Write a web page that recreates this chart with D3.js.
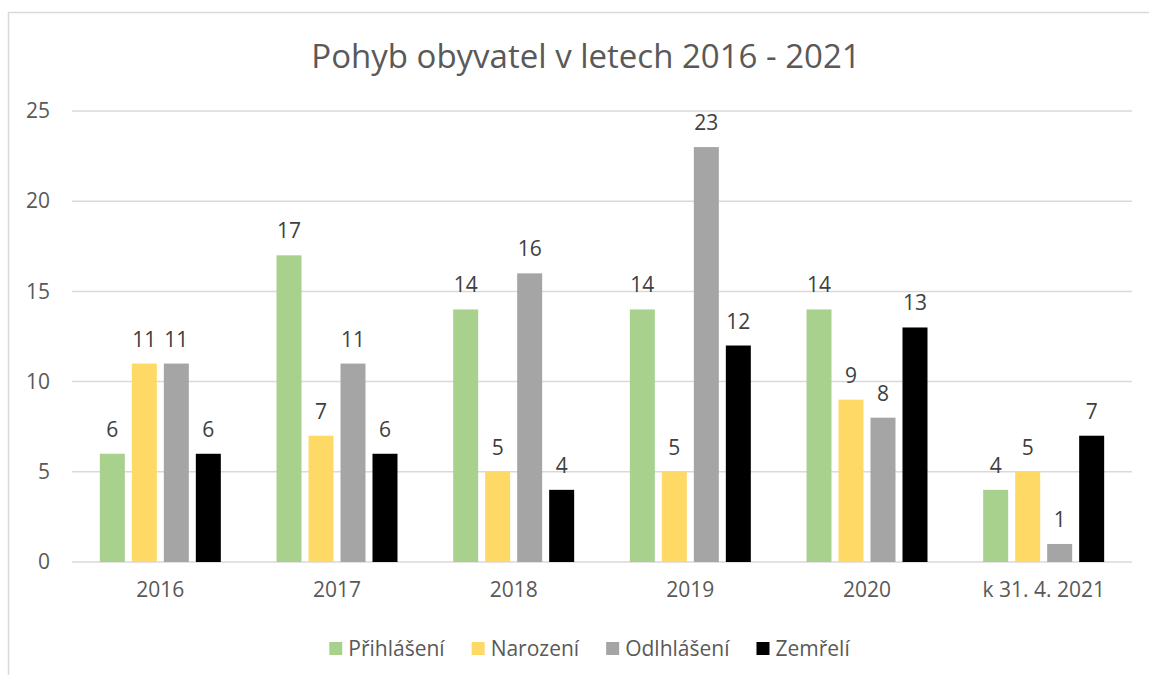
<!DOCTYPE html>
<html><head><meta charset="utf-8">
<script src="https://cdn.jsdelivr.net/npm/d3@7"></script>
<style>
html,body{margin:0;padding:0;background:#fff;}
svg{display:block;font-family:"Open Sans",sans-serif;}
</style></head>
<body><svg id="c" width="1149" height="675"></svg>
<script>
const title = "Pohyb obyvatel v letech 2016 - 2021";
const categories = ["2016","2017","2018","2019","2020","k 31. 4. 2021"];
const seriesNames = ["Přihlášení","Narození","Odlhlášení","Zemřelí"];
const prihlaseni = [6,17,14,14,14,4];
const narozeni = [11,7,5,5,9,5];
const odhlaseni = [11,11,16,23,8,1];
const zemreli = [6,6,4,12,13,7];
const yTicks = [0,5,10,15,20,25];
const colors = ["#A9D18E","#FFD966","#A5A5A5","#000000"];

(function(){
const seriesValues = [prihlaseni, narozeni, odhlaseni, zemreli];
const svg = d3.select("#c");

// chart border
svg.append("rect").attr("x",8.5).attr("y",12.5).attr("width",1200).attr("height",720)
  .attr("fill","none").attr("stroke","#d9d9d9").attr("stroke-width",1.5);

const pLeft=72, pRight=1132, pTop=111, pBottom=562;
const x0 = d3.scaleBand().domain(categories).range([pLeft,pRight]).padding(0);
const x1 = d3.scaleBand().domain(seriesNames).range([0,x0.bandwidth()])
  .paddingInner(0.21875).paddingOuter(0.87);
const y = d3.scaleLinear().domain([0,25]).range([pBottom,pTop]);

// gridlines
svg.append("g").selectAll("line").data(yTicks).join("line")
  .attr("x1",pLeft).attr("x2",pRight)
  .attr("y1",d=>y(d)).attr("y2",d=>y(d))
  .attr("stroke","#d9d9d9").attr("stroke-width",1.5);

// y axis labels
const yAxis = d3.axisLeft(y).tickValues(yTicks).tickSize(0).tickPadding(0);
const gy = svg.append("g").attr("transform","translate(50,0)").call(yAxis);
gy.select(".domain").remove();
gy.selectAll("text").attr("fill","#595959").style("font-size","21px")
  .style("font-family","'Open Sans',sans-serif");

// x axis labels
const xAxis = d3.axisBottom(x0).tickSize(0).tickPadding(0);
const gx = svg.append("g").attr("transform",`translate(0,${pBottom+20})`).call(xAxis);
gx.select(".domain").remove();
gx.selectAll("text").attr("fill","#595959").style("font-size","21px")
  .style("font-family","'Open Sans',sans-serif");

// bars
const data = [];
categories.forEach((c,i)=>seriesNames.forEach((s,j)=>data.push({c,s,j,v:seriesValues[j][i]})));
svg.append("g").selectAll("rect").data(data).join("rect")
  .attr("x",d=>x0(d.c)+x1(d.s)).attr("width",x1.bandwidth())
  .attr("y",d=>y(d.v)).attr("height",d=>y(0)-y(d.v))
  .attr("fill",d=>colors[d.j]);

// data labels
svg.append("g").selectAll("text").data(data).join("text")
  .attr("x",d=>x0(d.c)+x1(d.s)+x1.bandwidth()/2)
  .attr("y",d=>y(d.v)-17)
  .attr("text-anchor","middle").attr("fill","#404040").style("font-size","21px")
  .text(d=>d.v);

// title
svg.append("text").attr("x",586).attr("y",68).attr("text-anchor","middle")
  .attr("fill","#595959").style("font-size","33px").text(title);

// legend
const lg = svg.append("g");
const items = lg.selectAll("g").data(seriesNames).join("g");
items.append("rect").attr("width",13).attr("height",13).attr("y",642).attr("fill",(d,i)=>colors[i]);
items.append("text").attr("x",19).attr("y",656).attr("fill","#595959").style("font-size","21px").text(d=>d);
let widths = [];
items.each(function(){ widths.push(19 + d3.select(this).select("text").node().getComputedTextLength()); });
const gap = 27;
const total = d3.sum(widths) + gap*(widths.length-1);
let cx = 589.5 - total/2;
items.attr("transform",(d,i)=>{ const t=`translate(${cx},0)`; cx += widths[i]+gap; return t; });
})();
</script></body></html>
